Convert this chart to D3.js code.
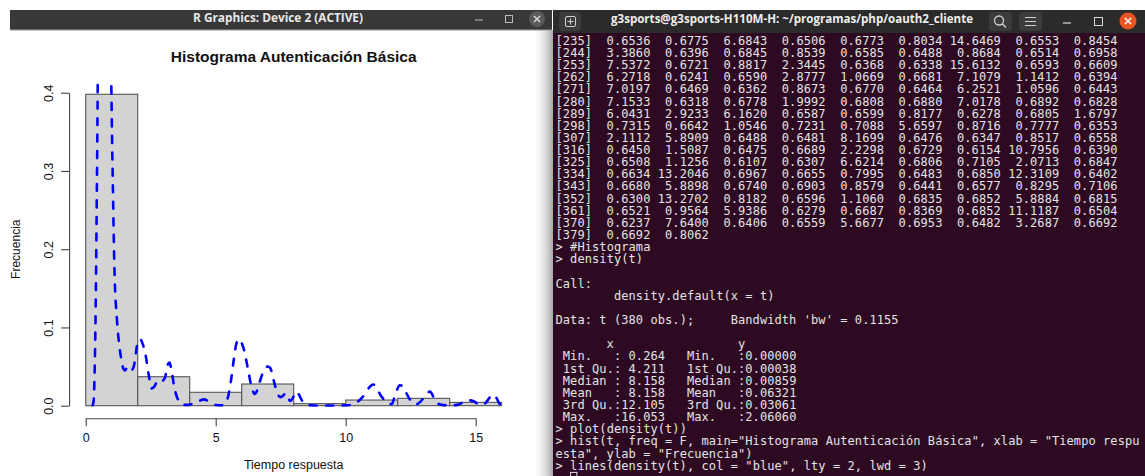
<!DOCTYPE html>
<html><head><meta charset="utf-8">
<script src="https://cdn.jsdelivr.net/npm/d3@7/dist/d3.min.js"></script>
<style>html,body{margin:0;padding:0;background:#fff;overflow:hidden}</style>
</head><body>
<svg id="c" width="1145" height="476"></svg>
<script>
// ---------- chart data ----------
const binEdges = [0, 2, 4, 6, 8, 10, 12, 14, 16];
const binDensity = [0.398, 0.037, 0.0171, 0.0277, 0.0026, 0.0072, 0.0094, 0.0042];
const densX = [0.264,0.30,0.34,0.38,0.42,0.46,0.52,0.60,0.68,0.76,0.85,0.92,0.985,1.05,1.10,1.20,1.30,1.385,1.45,1.52,1.60,1.68,1.78,1.88,1.98,2.09,2.20,2.30,2.42,2.54,2.65,2.78,2.95,3.05,3.15,3.22,3.30,3.40,3.50,3.63,3.80,3.95,4.14,4.35,4.55,4.70,4.85,5.00,5.23,5.38,5.50,5.60,5.70,5.80,5.90,6.00,6.10,6.25,6.38,6.50,6.60,6.70,6.85,7.00,7.10,7.24,7.38,7.50,7.60,7.68,7.78,7.88,8.00,8.12,8.22,8.31,8.45,8.60,9.00,9.50,10.00,10.30,10.50,10.70,10.90,11.06,11.20,11.35,11.50,11.65,11.77,11.87,11.96,12.08,12.20,12.32,12.45,12.60,12.73,12.90,13.05,13.24,13.38,13.50,13.70,14.00,14.30,14.50,14.70,14.90,15.10,15.25,15.40,15.55,15.68,15.80,15.93,16.053];
const densY = [0.0005,0.005,0.04,0.12,0.25,0.41,0.9,1.6,2.06,1.7,1.05,0.65,0.41,0.27,0.18,0.11,0.075,0.056,0.047,0.045,0.05,0.05,0.046,0.055,0.078,0.085,0.078,0.065,0.04,0.022,0.025,0.033,0.032,0.036,0.052,0.055,0.045,0.025,0.012,0.004,0.001,0.001,0.003,0.006,0.008,0.006,0.003,0.0008,0.0005,0.003,0.015,0.035,0.06,0.08,0.085,0.08,0.07,0.045,0.024,0.015,0.02,0.031,0.045,0.05,0.048,0.031,0.015,0.011,0.013,0.016,0.01,0.006,0.012,0.018,0.013,0.007,0.002,0.0005,0.0003,0.0003,0.0005,0.002,0.006,0.013,0.023,0.027,0.022,0.013,0.007,0.003,0.002,0.01,0.019,0.026,0.025,0.017,0.009,0.003,0.002,0.006,0.012,0.018,0.011,0.004,0.001,0.0005,0.001,0.004,0.007,0.006,0.002,0.001,0.004,0.011,0.014,0.01,0.002,0.0003];
const xTicks = [0, 5, 10, 15];
const yTicks = [0, 0.1, 0.2, 0.3, 0.4];
const plotTitle = "Histograma Autenticación Básica";
const xLabel = "Tiempo respuesta";
const yLabel = "Frecuencia";
const rWindowTitle = "R Graphics: Device 2 (ACTIVE)";
const termTitle = "g3sports@g3sports-H110M-H: ~/programas/php/oauth2_cliente";

// ---------- terminal data ----------
const termIdx = [235,244,253,262,271,280,289,298,307,316,325,334,343,352,361,370,379];
const termVals = [
 ["0.6536","0.6775","6.6843","0.6506","0.6773","0.8034","14.6469","0.6553","0.8454"],
 ["3.3860","0.6396","0.6845","0.8539","0.6585","0.6488","0.8684","0.6514","0.6958"],
 ["7.5372","0.6721","0.8817","2.3445","0.6368","0.6338","15.6132","0.6593","0.6609"],
 ["6.2718","0.6241","0.6590","2.8777","1.0669","0.6681","7.1079","1.1412","0.6394"],
 ["7.0197","0.6469","0.6362","0.8673","0.6770","0.6464","6.2521","1.0596","0.6443"],
 ["7.1533","0.6318","0.6778","1.9992","0.6808","0.6880","7.0178","0.6892","0.6828"],
 ["6.0431","2.9233","6.1620","0.6587","0.6599","0.8177","0.6278","0.6805","1.6797"],
 ["0.7315","0.6642","1.0546","0.7231","0.7088","5.6597","0.8716","0.7777","0.6353"],
 ["2.1112","5.8909","0.6488","0.6481","8.1699","0.6476","0.6347","0.8517","0.6558"],
 ["0.6450","1.5087","0.6475","0.6689","2.2298","0.6729","0.6154","10.7956","0.6390"],
 ["0.6508","1.1256","0.6107","0.6307","6.6214","0.6806","0.7105","2.0713","0.6847"],
 ["0.6634","13.2046","0.6967","0.6655","0.7995","0.6483","0.6850","12.3109","0.6402"],
 ["0.6680","5.8898","0.6740","0.6903","0.8579","0.6441","0.6577","0.8295","0.7106"],
 ["0.6300","13.2702","0.8182","0.6596","1.1060","0.6835","0.6852","5.8884","0.6815"],
 ["0.6521","0.9564","5.9386","0.6279","0.6687","0.8369","0.6852","11.1187","0.6504"],
 ["0.6237","7.6400","0.6406","0.6559","5.6677","0.6953","0.6482","3.2687","0.6692"],
 ["0.6692","0.8062"]
];
const termTail = [
 "> #Histograma",
 "> density(t)",
 "",
 "Call:",
 "        density.default(x = t)",
 "",
 "Data: t (380 obs.);     Bandwidth 'bw' = 0.1155",
 "",
 "       x                 y",
 " Min.   : 0.264   Min.   :0.00000",
 " 1st Qu.: 4.211   1st Qu.:0.00038",
 " Median : 8.158   Median :0.00859",
 " Mean   : 8.158   Mean   :0.06321",
 " 3rd Qu.:12.105   3rd Qu.:0.03061",
 " Max.   :16.053   Max.   :2.06060",
 "> plot(density(t))",
 "> hist(t, freq = F, main=\"Histograma Autenticación Básica\", xlab = \"Tiempo respu",
 "esta\", ylab = \"Frecuencia\")",
 "> lines(density(t), col = \"blue\", lty = 2, lwd = 3)"
];

// ---------- drawing ----------
const svg = d3.select("#c");
const defs = svg.append("defs");
svg.append("rect").attr("width",1145).attr("height",476).attr("fill","#fff");

// R window chrome
const sh = defs.append("linearGradient").attr("id","shadow").attr("x1","0").attr("x2","1");
sh.append("stop").attr("offset","0").attr("stop-color","#fff").attr("stop-opacity",0);
sh.append("stop").attr("offset","1").attr("stop-color","#a8a8a8").attr("stop-opacity",1);
svg.append("rect").attr("x",532).attr("y",30).attr("width",21).attr("height",446).attr("fill","url(#shadow)");
svg.append("rect").attr("x",10).attr("y",10).attr("width",542).attr("height",20).attr("fill","#383838");
svg.append("rect").attr("x",10).attr("y",29.5).attr("width",542).attr("height",1).attr("fill","#9a9a9a");
svg.append("text").attr("x",278).attr("y",22).attr("text-anchor","middle")
  .attr("font-family","'Open Sans','DejaVu Sans',sans-serif").attr("font-weight","bold")
  .attr("font-size",12).attr("fill","#e8e8e8").attr("textLength",170).attr("lengthAdjust","spacingAndGlyphs")
  .text(rWindowTitle);
svg.append("line").attr("x1",475).attr("x2",483).attr("y1",20).attr("y2",20).attr("stroke","#bdbdbd").attr("stroke-width",1);
svg.append("rect").attr("x",505.5).attr("y",15.5).attr("width",7).attr("height",7).attr("fill","none").attr("stroke","#bdbdbd");
svg.append("circle").attr("cx",537).attr("cy",19).attr("r",8).attr("fill","#5a5a5a");
svg.append("path").attr("d","M534,16L540,22M540,16L534,22").attr("stroke","#d8d8d8").attr("stroke-width",1.5);

// Plot
const x = d3.scaleLinear().domain([-0.64, 16.64]).range([69.1, 518.3]);
const y = d3.scaleLinear().domain([-0.016, 0.416]).range([418.2, 80.2]);
const font = "'Liberation Sans', Arial, Helvetica, sans-serif";

defs.append("clipPath").attr("id","plotclip").append("rect")
  .attr("x",69.1).attr("y",80.2).attr("width",449.2).attr("height",338);

const bins = binDensity.map((d,i)=>({x0:binEdges[i], x1:binEdges[i+1], d}));
svg.append("g").selectAll("rect").data(bins).join("rect")
  .attr("x",b=>x(b.x0)).attr("width",b=>x(b.x1)-x(b.x0))
  .attr("y",b=>y(b.d)).attr("height",b=>y(0)-y(b.d))
  .attr("fill","#d3d3d3").attr("stroke","#555").attr("stroke-width",1.1);

// x axis
const xa = d3.scaleLinear().domain([0,15]).range([x(0), x(15)]);
const gx = svg.append("g").attr("transform",`translate(0,${y(-0.016)})`)
  .call(d3.axisBottom(xa).tickValues(xTicks).tickSize(8).tickSizeOuter(0).tickPadding(6).tickFormat(d3.format("d")));
gx.select(".domain").attr("stroke","#444").attr("stroke-width",1.1);
gx.selectAll(".tick line").attr("stroke","#444").attr("stroke-width",1.1);
gx.selectAll(".tick text").attr("font-family",font).attr("font-size",12.5).attr("fill","#111").attr("dy","0.75em").attr("y",14);

// y axis
const ya = d3.scaleLinear().domain([0,0.4]).range([y(0), y(0.4)]);
const gy = svg.append("g").attr("transform",`translate(${x(-0.64)},0)`)
  .call(d3.axisLeft(ya).tickValues(yTicks).tickSize(8).tickSizeOuter(0).tickFormat(d3.format(".1f")));
gy.select(".domain").attr("stroke","#444").attr("stroke-width",1.1);
gy.selectAll(".tick line").attr("stroke","#444").attr("stroke-width",1.1);
gy.selectAll(".tick text").attr("font-family",font).attr("font-size",12.5).attr("fill","#111")
  .attr("x",null).attr("dy",null).attr("text-anchor","middle")
  .attr("transform","translate(-20.7,0) rotate(-90)").attr("y",4.5);

// density line
const line = d3.line().x(d=>x(d[0])).y(d=>y(d[1])).curve(d3.curveMonotoneX);
svg.append("path").datum(densX.map((v,i)=>[v,densY[i]]))
  .attr("clip-path","url(#plotclip)")
  .attr("d",line).attr("fill","none").attr("stroke","#0000ff")
  .attr("stroke-width",2.6).attr("stroke-dasharray","7 9.5").attr("stroke-linecap","round");

// titles
svg.append("text").attr("x",(x(0)+x(16))/2).attr("y",62).attr("text-anchor","middle")
  .attr("font-family",font).attr("font-weight","bold").attr("font-size",15.5).attr("fill","#111").text(plotTitle);
svg.append("text").attr("x",(x(0)+x(16))/2).attr("y",469).attr("text-anchor","middle")
  .attr("font-family",font).attr("font-size",12.5).attr("fill","#111").text(xLabel);
svg.append("text").attr("transform",`translate(19.5,${(y(0)+y(0.4))/2}) rotate(-90)`).attr("text-anchor","middle")
  .attr("font-family",font).attr("font-size",12).attr("fill","#111").text(yLabel);

// Terminal window
const TX = 553;
svg.append("rect").attr("x",TX).attr("y",33).attr("width",1145-TX).attr("height",443).attr("fill","#2d0a22");
svg.append("rect").attr("x",TX).attr("y",10).attr("width",1145-TX).attr("height",23).attr("fill","#2b2b2b");
svg.append("text").attr("x",792).attr("y",22.5).attr("text-anchor","middle")
  .attr("font-family","'Open Sans','DejaVu Sans',sans-serif").attr("font-weight","bold")
  .attr("font-size",12).attr("fill","#eeeeee").attr("textLength",362).attr("lengthAdjust","spacingAndGlyphs")
  .text(termTitle);
// buttons
[[559,22],[989,23],[1019,23]].forEach(([bx,bw])=>{
  svg.append("rect").attr("x",bx).attr("y",12).attr("width",bw).attr("height",19).attr("rx",4).attr("fill","#3c3c3c");
});
svg.append("rect").attr("x",565.5).attr("y",16.5).attr("width",10).attr("height",10).attr("rx",1.5).attr("fill","none").attr("stroke","#d0d0d0");
svg.append("path").attr("d","M570.5,18.5V24.5M567.5,21.5H573.5").attr("stroke","#d0d0d0");
svg.append("circle").attr("cx",999).attr("cy",20.5).attr("r",4.5).attr("fill","none").attr("stroke","#d0d0d0").attr("stroke-width",1.3);
svg.append("path").attr("d","M1002.3,23.8L1006,27.5").attr("stroke","#d0d0d0").attr("stroke-width",1.5);
svg.append("path").attr("d","M1025,17.5H1036M1025,21.5H1036M1025,25.5H1036").attr("stroke","#d0d0d0").attr("stroke-width",1.2);
svg.append("line").attr("x1",1063).attr("x2",1071).attr("y1",23).attr("y2",23).attr("stroke","#d8d8d8").attr("stroke-width",1.2);
svg.append("rect").attr("x",1094.5).attr("y",17.5).attr("width",8).attr("height",8).attr("fill","none").attr("stroke","#d8d8d8");
svg.append("circle").attr("cx",1128).attr("cy",21).attr("r",8.5).attr("fill","#e95420");
svg.append("path").attr("d","M1125,18L1131,24M1131,18L1125,24").attr("stroke","#fff").attr("stroke-width",1.5);

// terminal text
const lines = termIdx.map((ix,i)=>("["+ix+"]") + termVals[i].map(v=>" "+v.padStart(7," ")).join(""))
  .concat(termTail);
const CW = 7.3, X0 = 555.5, R0 = 40.5, LH = 12.14;
const tg = svg.append("g").attr("font-family","'DejaVu Sans Mono','Liberation Mono',monospace")
  .attr("font-size",12).attr("fill","#e4e4e4");
lines.forEach((s,row)=>{
  const re = /\S+/g; let m;
  const runs = [];
  let cur = null;
  while((m = re.exec(s))){
    if(cur && m.index - (cur.start + cur.text.length) === 1){ cur.text += " " + m[0]; }
    else { cur = {start:m.index, text:m[0]}; runs.push(cur); }
  }
  runs.forEach(r=>{
    tg.append("text").attr("x",X0 + r.start*CW).attr("y",R0 + row*LH + 4.3)
      .attr("textLength", r.text.length*CW).attr("lengthAdjust","spacing")
      .style("white-space","pre").text(r.text);
  });
});
// cursor (prompt line below is off-screen)
svg.append("rect").attr("x",X0 + 2*CW + 0.5).attr("y",R0 + 35*LH + 7).attr("width",CW-1).attr("height",12)
  .attr("fill","none").attr("stroke","#e4e4e4").attr("stroke-width",1);
</script>
</body></html>
